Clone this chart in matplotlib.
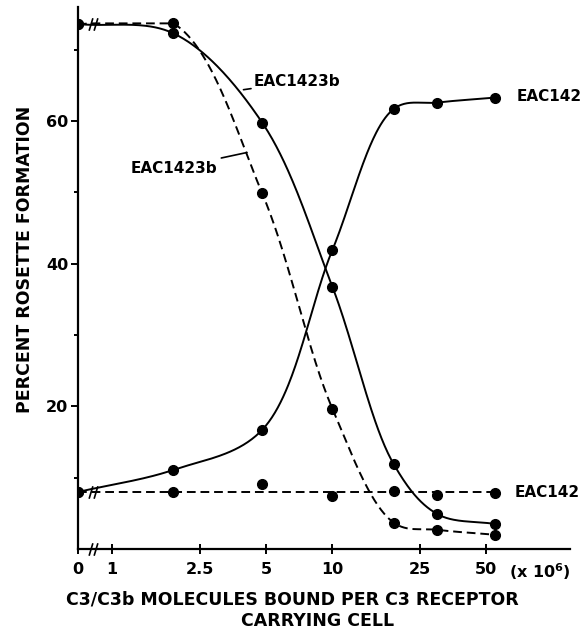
import numpy as np
import matplotlib
matplotlib.use("Agg")
import matplotlib.pyplot as plt
from matplotlib.path import Path

# C3/C3b molecules bound per receptor-carrying cell (x 10^6); 0 sits left of the axis break
dose = [0, 1.9, 4.8, 10, 19, 30, 55]

eac1423b_solid = [73.6, 72.3, 59.8, 36.8, 11.9, 4.9, 3.5]
eac1423b_dash = [73.6, 73.7, 49.9, 19.7, 3.7, 2.7, 2.0]
eac142_solid = [8.0, 11.1, 16.7, 41.9, 61.7, 62.6, 63.3]
eac142_dash = [8.0, 8.0, 9.1, 7.5, 8.2, 7.6, 7.9]

xtick_vals = [1, 2.5, 5, 10, 25, 50]
xtick_text = ["1", "2.5", "5", "10", "25", "50"]

ZERO_POS = 0.70     # where "0" is drawn on the log axis
BREAK_POS = 0.82    # where the // break marks go

plt.rcParams['font.family'] = ['DejaVu Sans']
plt.rcParams['font.weight'] = 'bold'
plt.rcParams['axes.labelweight'] = 'bold'
plt.rcParams['mathtext.default'] = 'bf'


def xpos(vals):
    v = np.asarray(vals, dtype=float)
    return np.where(v == 0, ZERO_POS, v)


def catmull_rom(pts, n=60):
    # centripetal Catmull-Rom through every point, no overshoot past a segment's ends
    pts = np.asarray(pts, float)
    pts = np.vstack([2 * pts[0] - pts[1], pts, 2 * pts[-1] - pts[-2]])
    out = []
    for i in range(len(pts) - 3):
        p0, p1, p2, p3 = pts[i:i + 4]
        t0 = 0.0
        t1 = t0 + np.linalg.norm(p1 - p0) ** 0.5
        t2 = t1 + np.linalg.norm(p2 - p1) ** 0.5
        t3 = t2 + np.linalg.norm(p3 - p2) ** 0.5
        t = np.linspace(t1, t2, n)[:, None]
        a1 = (t1 - t) / (t1 - t0) * p0 + (t - t0) / (t1 - t0) * p1
        a2 = (t2 - t) / (t2 - t1) * p1 + (t - t1) / (t2 - t1) * p2
        a3 = (t3 - t) / (t3 - t2) * p2 + (t - t2) / (t3 - t2) * p3
        b1 = (t2 - t) / (t2 - t0) * a1 + (t - t0) / (t2 - t0) * a2
        b2 = (t3 - t) / (t3 - t1) * a2 + (t - t1) / (t3 - t1) * a3
        c = (t2 - t) / (t2 - t1) * b1 + (t - t1) / (t2 - t1) * b2
        c[:, 1] = np.clip(c[:, 1], min(p1[1], p2[1]), max(p1[1], p2[1]))
        out.append(c)
    return np.vstack(out)


def smooth_curve(ax, xs, ys, **kw):
    # work in roughly equal screen units: log-decade ~ 220 px, 1 % ~ 7 px
    u = np.log10(xpos(xs)) * 220
    v = np.asarray(ys, float) * 7.1
    c = catmull_rom(np.column_stack([u, v]))
    ax.plot(10 ** (c[:, 0] / 220), c[:, 1] / 7.1, color='black', **kw)


# two slanted strokes used as a break mark
brk = Path([(-0.7, -1), (-0.1, 1), (0.1, -1), (0.7, 1)],
           [Path.MOVETO, Path.LINETO, Path.MOVETO, Path.LINETO])

fig = plt.figure(figsize=(5.85, 6.34), dpi=100)
ax = fig.add_axes([0.1333, 0.134, 0.841, 0.855])

lw = 1.4
dash = (0, (4.5, 2.5))

smooth_curve(ax, dose, eac1423b_solid, lw=lw)
smooth_curve(ax, dose, eac1423b_dash, lw=lw, linestyle=dash)
smooth_curve(ax, dose, eac142_solid, lw=lw)
# the EAC142 control runs flat at its mean level
flat = np.mean(eac142_dash)
ax.plot(xpos([dose[0], dose[-1]]), [flat, flat], color='black', lw=lw, linestyle=dash)

for ys in (eac1423b_solid, eac1423b_dash, eac142_solid, eac142_dash):
    ax.plot(xpos(dose), ys, 'o', color='black', markersize=7, zorder=3)

# break marks on the curves and on the x axis
for yb in (73.6, 8.0):
    ax.plot([BREAK_POS], [yb], marker=brk, markersize=9, color='black',
            markeredgewidth=1.2, linestyle='none')
ax.plot([BREAK_POS], [0], marker=brk, markersize=9, color='black',
        markeredgewidth=1.2, linestyle='none', clip_on=False)

# curve labels
ax.annotate("EAC1423b", xy=(3.95, 64.4), xytext=(4.4, 65.5),
            fontsize=11, va='center', ha='left',
            arrowprops=dict(arrowstyle='-', lw=1.2, shrinkA=0, shrinkB=0))
ax.annotate("EAC1423b", xy=(4.1, 55.6), xytext=(3.0, 53.4),
            fontsize=11, va='center', ha='right',
            arrowprops=dict(arrowstyle='-', lw=1.2, shrinkA=1, shrinkB=0))
ax.text(69, 63.4, "EAC142", fontsize=11, va='center', ha='left')
ax.text(67, 7.9, "EAC142", fontsize=11, va='center', ha='left')

ax.set_xscale('log')
ax.set_xlim(ZERO_POS, 120)
ax.set_ylim(0, 76)
ax.set_xticks([ZERO_POS] + xtick_vals)
ax.set_xticklabels(["0"] + xtick_text)
ax.xaxis.set_minor_locator(plt.NullLocator())
ax.set_yticks([20, 40, 60])
ax.set_yticks([10, 30, 50, 70], minor=True)

ax.tick_params(axis='x', which='major', direction='inout', length=7, width=1.4,
               labelsize=11.5, pad=6)
ax.tick_params(axis='y', which='major', direction='out', length=5, width=1.4,
               labelsize=11.5, pad=2)
ax.tick_params(axis='y', which='minor', direction='out', length=3, width=1.4)

for side in ('top', 'right'):
    ax.spines[side].set_visible(False)
for side in ('left', 'bottom'):
    ax.spines[side].set_linewidth(1.6)

ax.set_ylabel("PERCENT ROSETTE FORMATION", fontsize=12.5)
ax.yaxis.set_label_coords(-0.09, 0.535)

fig.text(0.923, 1 - 572 / 634, r"(x 10$^{6}$)", fontsize=11.5, ha='center', va='center')
fig.text(0.50, 1 - 599 / 634, "C3/C3b MOLECULES BOUND PER C3 RECEPTOR",
         fontsize=12.5, ha='center', va='center')
fig.text(0.542, 1 - 621 / 634, "CARRYING CELL", fontsize=12.5, ha='center', va='center')

fig.savefig("out.png", dpi=100)
